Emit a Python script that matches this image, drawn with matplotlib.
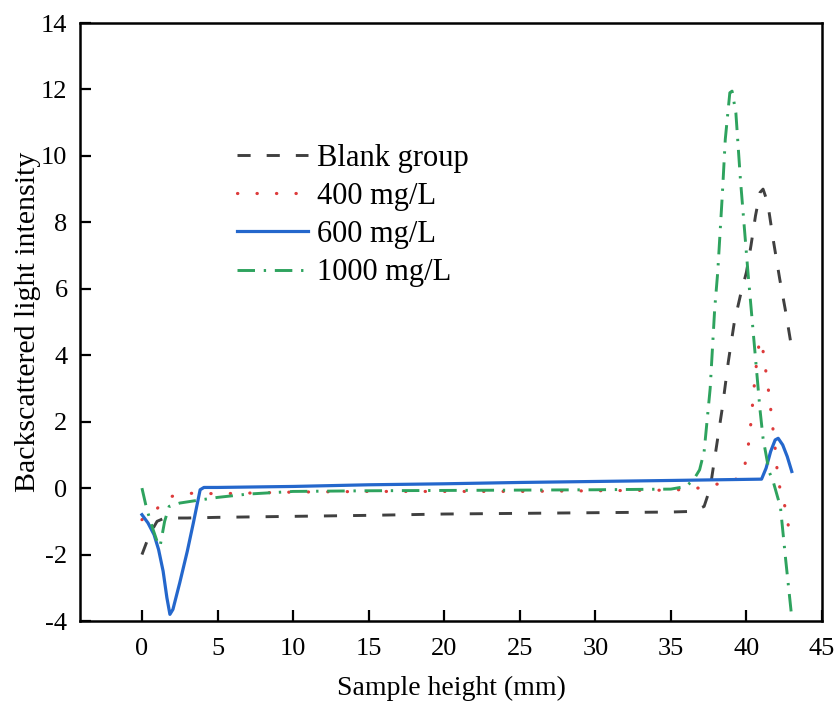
import matplotlib

matplotlib.use("Agg")
import matplotlib.pyplot as plt

# values
blank_x = [0, 0.5, 1.0, 1.5, 3, 5, 10, 15, 20, 25, 30, 35, 36.5, 37.2, 37.6, 38.0, 38.4,
           38.8, 39.2, 39.6, 40.0, 40.3, 40.6, 40.9, 41.1, 41.4, 41.8, 42.2, 42.6, 43.0]
blank_y = [-2.0, -1.4, -1.0, -0.9, -0.9, -0.88, -0.85, -0.82, -0.78, -0.76, -0.74, -0.72,
           -0.7, -0.55, 0.0, 1.2, 2.4, 3.8, 5.0, 5.8, 6.5, 7.3, 8.2, 8.9, 9.0, 8.6, 7.4,
           6.3, 5.3, 4.2]

c400_x = [0, 0.5, 1.0, 1.6, 2.5, 3.5, 5, 7, 10, 15, 20, 25, 30, 35, 36.5, 37.5, 38.5,
          39.5, 39.9, 40.2, 40.4, 40.6, 40.85, 41.0, 41.2, 41.5, 41.9, 42.1, 42.5, 42.8, 43.0]
c400_y = [-0.95, -0.8, -0.62, -0.3, -0.18, -0.15, -0.17, -0.15, -0.12, -0.1, -0.1, -0.1,
          -0.08, -0.06, -0.03, 0.08, 0.15, 0.3, 0.7, 1.5, 2.5, 3.5, 4.4, 4.45, 3.8, 2.8,
          1.2, 0.2, -0.45, -1.2, -1.55]

c600_x = [0, 0.4, 0.8, 1.1, 1.4, 1.65, 1.85, 2.05, 2.5, 3.0, 3.4, 3.85, 4.1, 5, 10, 15,
          20, 25, 30, 35, 38, 41.0, 41.3, 41.6, 41.9, 42.1, 42.4, 42.7, 43.0]
c600_y = [-0.8, -1.05, -1.4, -1.85, -2.5, -3.3, -3.8, -3.65, -2.85, -1.9, -1.05, -0.05,
          0.02, 0.02, 0.05, 0.1, 0.13, 0.17, 0.2, 0.23, 0.25, 0.27, 0.6, 1.1, 1.45, 1.5,
          1.3, 0.95, 0.5]

c1000_x = [0, 0.3, 0.7, 1.0, 1.2, 1.5, 1.8, 2.5, 3.5, 5, 7, 10, 15, 20, 25, 30, 35, 36.0,
           36.5, 36.9, 37.2, 37.6, 37.9, 38.1, 38.4, 38.6, 38.9, 39.05, 39.3, 39.6, 40.1,
           40.9, 41.1, 41.5, 41.8, 42.25, 42.6, 43.0]
c1000_y = [0.0, -0.6, -1.2, -1.6, -1.75, -1.0, -0.55, -0.45, -0.38, -0.28, -0.18, -0.1,
           -0.08, -0.07, -0.06, -0.05, -0.03, 0.05, 0.25, 0.55, 1.1, 3.0, 5.4, 6.5, 8.8,
           10.5, 11.9, 11.95, 11.3, 9.3, 6.5, 2.35, 1.5, 0.5, 0.15, -0.57, -2.17, -3.9]

labels = ["Blank group", "400 mg/L", "600 mg/L", "1000 mg/L"]
x_ticks = list(range(0, 50, 5))
y_ticks = list(range(-4, 16, 2))

plt.rcParams["font.family"] = ["Liberation Serif", "DejaVu Serif"]
plt.rcParams["axes.unicode_minus"] = False

fig = plt.figure(figsize=(8.35, 7.02), dpi=100)
ax = fig.add_axes([80 / 835, 1 - 621 / 702, 742 / 835, 598 / 702])

ax.plot(blank_x, blank_y, color="#404040", lw=2.1, linestyle=(0, (4.5, 5.5)), label=labels[0])
ax.plot(c400_x, c400_y, color="#dd3b3b", lw=2.3, linestyle=(0, (0.1, 6.0)),
        dash_capstyle="round", label=labels[1])
ax.plot(c600_x, c600_y, color="#2467cc", lw=2.3, label=labels[2])
ax.plot(c1000_x, c1000_y, color="#2ea35e", lw=2.1, linestyle=(0, (6, 3, 0.8, 3)), label=labels[3])

ax.set_xlim(-4.1, 45)
ax.set_ylim(-4, 14)
ax.set_xticks(x_ticks)
ax.set_yticks(y_ticks)
ax.tick_params(direction="in", length=8, width=1.6, labelsize=19, top=False, right=False)
ax.tick_params(axis="x", pad=12)
ax.tick_params(axis="y", pad=9)
for s in ax.spines.values():
    s.set_linewidth(1.8)

ax.set_xlabel("Sample height (mm)", fontsize=20, labelpad=12)
ax.set_ylabel("Backscattered light intensity", fontsize=21.5, labelpad=0)

ax.legend(loc="upper left", bbox_to_anchor=(0.212, 0.798), frameon=False, fontsize=22,
          handlelength=2.3, handletextpad=0.3, labelspacing=0.3, borderpad=0,
          borderaxespad=0)

fig.savefig("out.png", dpi=100)
plt.close(fig)
